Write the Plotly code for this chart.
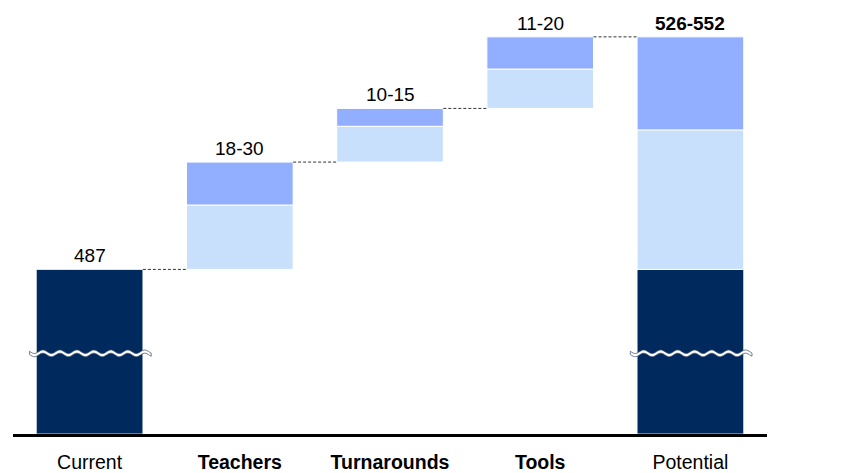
import numpy as np
import plotly.graph_objects as go

categories = ["Current", "Teachers", "Turnarounds", "Tools", "Potential"]
tick_labels = ["Current", "<b>Teachers</b>", "<b>Turnarounds</b>", "<b>Tools</b>", "Potential"]
current_value = 487
inc_low = [18, 10, 11]     # Teachers, Turnarounds, Tools (low estimate)
inc_high = [30, 15, 20]    # Teachers, Turnarounds, Tools (high estimate)
value_labels = ["487", "18-30", "10-15", "11-20", "<b>526-552</b>"]
AXIS_BASE = 441            # broken-axis floor
AXIS_TOP = 562.3

NAVY = "#002A5E"
MID = "#91AEFF"
LIGHT = "#C8E0FB"
FONT = "Arial, Liberation Sans, sans-serif"
W = 0.71

pot_low = current_value + sum(inc_low)
pot_high = current_value + sum(inc_high)

x = list(range(len(categories)))
fig = go.Figure()

# dark solid bars: Current and Potential base
fig.add_trace(go.Bar(x=[x[0], x[4]], y=[current_value - AXIS_BASE] * 2, base=[AXIS_BASE] * 2,
                     marker=dict(color=NAVY, line=dict(color="#ffffff", width=0.8)), width=W))

# increments
cum = [current_value]
for v in inc_high:
    cum.append(cum[-1] + v)
inc_x = x[1:4]
fig.add_trace(go.Bar(x=inc_x, y=inc_low, base=cum[:3],
                     marker=dict(color=LIGHT, line=dict(color="#ffffff", width=1)), width=W))
fig.add_trace(go.Bar(x=inc_x, y=[h - l for h, l in zip(inc_high, inc_low)],
                     base=[c + l for c, l in zip(cum[:3], inc_low)],
                     marker=dict(color=MID, line=dict(color="#ffffff", width=1)), width=W))
# potential range
fig.add_trace(go.Bar(x=[x[4]], y=[pot_low - current_value], base=[current_value],
                     marker=dict(color=LIGHT, line=dict(color="#ffffff", width=1)), width=W))
fig.add_trace(go.Bar(x=[x[4]], y=[pot_high - pot_low], base=[pot_low],
                     marker=dict(color=MID, line=dict(color="#ffffff", width=1)), width=W))

tops = [current_value] + cum[1:] + [pot_high]
for i, (t, lab) in enumerate(zip(tops, value_labels)):
    fig.add_annotation(x=x[i], y=t, text=lab, showarrow=False, yanchor="bottom", yshift=1,
                       font=dict(size=19, color="#000000", family=FONT))

shapes = []
# connectors
conn_levels = [current_value] + cum[1:]
for i, lvl in enumerate(conn_levels):
    shapes.append(dict(type="line", xref="x", yref="y", x0=x[i] + W / 2, x1=x[i + 1] - W / 2,
                       y0=lvl, y1=lvl, line=dict(color="#333333", width=1, dash="3px,2px")))

# broken-axis wave marks
break_y = AXIS_BASE + (current_value - AXIS_BASE) * 0.49
for cx in (x[0], x[4]):
    xs = np.linspace(cx - 0.4, cx + 0.41, 90)
    wave = 0.5 * np.sin((xs - cx) / 0.113 * 2 * np.pi)
    up = break_y + 0.45 + wave
    dn = break_y - 0.45 + wave
    pts = [f"{a:.4f},{b:.4f}" for a, b in zip(xs, up)]
    pts += [f"{a:.4f},{b:.4f}" for a, b in zip(xs[::-1], dn[::-1])]
    path = "M " + " L ".join(pts) + " Z"
    shapes.append(dict(type="path", xref="x", yref="y", path=path,
                       fillcolor="#ffffff", line=dict(color="#3a4a66", width=0.7)))

fig.update_layout(
    width=857, height=473,
    margin=dict(l=13, r=90, t=0, b=36),
    paper_bgcolor="#ffffff", plot_bgcolor="#ffffff",
    barmode="overlay", showlegend=False,
    shapes=shapes,
    font=dict(family=FONT, color="#000000"),
    xaxis=dict(range=[-0.51, 4.51], tickvals=x, ticktext=tick_labels, showgrid=False,
               zeroline=False, showline=True, linecolor="#000000", linewidth=3,
               ticks="", ticklabelstandoff=9,
               tickfont=dict(size=19.5, color="#000000", family=FONT)),
    yaxis=dict(range=[AXIS_BASE, AXIS_TOP], visible=False, showgrid=False, zeroline=False),
)

fig.write_html("out.html", config={"displayModeBar": False},
               post_script="document.body.style.margin='0';")
